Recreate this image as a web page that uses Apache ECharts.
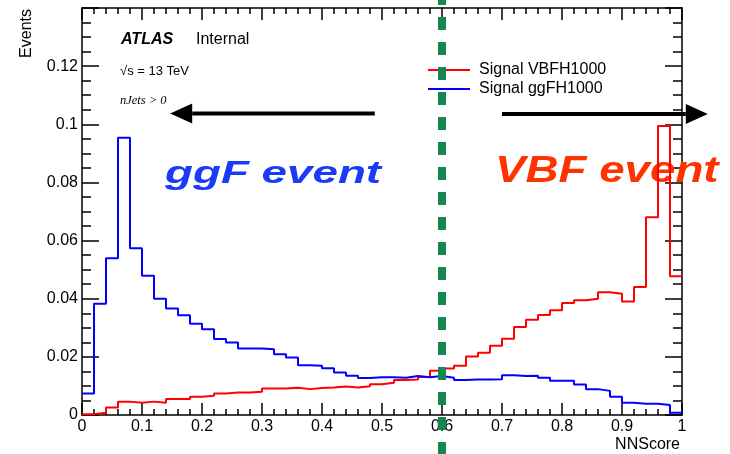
<!DOCTYPE html>
<html>
<head>
<meta charset="utf-8">
<title>NNScore</title>
<script src="https://cdn.jsdelivr.net/npm/echarts@6/dist/echarts.min.js"></script>
<style>
html,body{margin:0;padding:0;background:#fff;}
#chart{width:730px;height:454px;}
</style>
</head>
<body>
<div id="chart"></div>
<script type="text/javascript">
// 50 bins of width 0.02 on NNScore [0,1], normalised
var binWidth = 0.02;
var vbfValues = [
  0.0003, 0.0008, 0.0026, 0.0046, 0.0042, 0.0046, 0.0042, 0.0055, 0.0055, 0.0063,
  0.0066, 0.0074, 0.0077, 0.0077, 0.0080, 0.0091, 0.0091, 0.0094, 0.0089, 0.0093,
  0.0095, 0.0098, 0.0095, 0.0099, 0.0106, 0.0111, 0.0120, 0.0122, 0.0131, 0.0152,
  0.0160, 0.0169, 0.0201, 0.0214, 0.0238, 0.0262, 0.0303, 0.0328, 0.0344, 0.0360,
  0.0385, 0.0395, 0.0400, 0.0422, 0.0417, 0.0390, 0.0440, 0.0680, 0.0994, 0.0477
];
var ggfValues = [
  0.0074, 0.0383, 0.0539, 0.0954, 0.0574, 0.0479, 0.0400, 0.0366, 0.0343, 0.0314,
  0.0295, 0.0261, 0.0249, 0.0229, 0.0229, 0.0226, 0.0209, 0.0198, 0.0171, 0.0169,
  0.0161, 0.0146, 0.0135, 0.0127, 0.0130, 0.0130, 0.0128, 0.0134, 0.0130, 0.0134,
  0.0128, 0.0120, 0.0122, 0.0122, 0.0123, 0.0137, 0.0134, 0.0135, 0.0128, 0.0118,
  0.0118, 0.0105, 0.0089, 0.0083, 0.0063, 0.0042, 0.0039, 0.0039, 0.0034, 0.0008
];
var seriesNames = ['Signal VBFH1000', 'Signal ggFH1000'];
var cutValue = 0.6;
// arrows in data units: [tail, tip]
var leftArrow = [[0.488, 0.1037], [0.147, 0.1037]];
var rightArrow = [[0.700, 0.1035], [1.043, 0.1035]];

var FONT = '"Liberation Sans", Arial, Helvetica, sans-serif';

// left bin edges + closing edge, drawn as steps
function toSteps(vals) {
  var pts = [];
  for (var i = 0; i < vals.length; i++) {
    pts.push([+(i * binWidth).toFixed(2), vals[i]]);
  }
  pts.push([1, vals[vals.length - 1]]);
  return pts;
}

function xAx(pos, showLabel) {
  return {
    type: 'value', min: 0, max: 1, interval: 0.1, position: pos,
    axisLine: {show: true, onZero: false, lineStyle: {color: '#000', width: 1.5}},
    axisTick: {show: true, inside: true, length: 12, lineStyle: {color: '#000', width: 1.5}},
    minorTick: {show: true, splitNumber: 5, length: 6, lineStyle: {color: '#000', width: 1.5}},
    splitLine: {show: false}, minorSplitLine: {show: false},
    axisLabel: {show: showLabel, fontSize: 16, color: '#000', fontFamily: FONT, margin: 4}
  };
}
function yAx(pos, showLabel) {
  return {
    type: 'value', min: 0, max: 0.14, interval: 0.02, position: pos,
    axisLine: {show: true, onZero: false, lineStyle: {color: '#000', width: 1.5}},
    axisTick: {show: true, inside: true, length: 17, lineStyle: {color: '#000', width: 1.5}},
    minorTick: {show: true, splitNumber: 4, length: 9, lineStyle: {color: '#000', width: 1.5}},
    splitLine: {show: false}, minorSplitLine: {show: false},
    axisLabel: {show: showLabel, fontSize: 16, color: '#000', fontFamily: FONT, margin: 4,
      showMaxLabel: false}
  };
}

var chart = echarts.init(document.getElementById('chart'));
var option = {
  animation: false,
  backgroundColor: '#fff',
  grid: {left: 82, right: 48, top: 8, bottom: 39, outerBoundsMode: 'none'},
  xAxis: [xAx('bottom', true), xAx('top', false)],
  yAxis: [yAx('left', true), yAx('right', false)],
  legend: {
    orient: 'vertical', left: 428, top: 62, padding: 0, itemGap: 3,
    itemWidth: 42, itemHeight: 2, icon: 'rect',
    textStyle: {fontSize: 16, lineHeight: 16, color: '#000', fontFamily: FONT, padding: [0, 0, 0, 4]},
    data: seriesNames
  },
  series: [
    {
      name: seriesNames[0], type: 'line', step: 'end', symbol: 'none',
      color: '#ff0000', lineStyle: {color: '#ff0000', width: 2}, z: 3,
      data: toSteps(vbfValues)
    },
    {
      name: seriesNames[1], type: 'line', step: 'end', symbol: 'none',
      color: '#0000ff', lineStyle: {color: '#0000ff', width: 2}, z: 3,
      data: toSteps(ggfValues)
    }
  ]
};
chart.setOption(option);

function arrow(a) {
  var p0 = chart.convertToPixel({gridIndex: 0}, a[0]);
  var p1 = chart.convertToPixel({gridIndex: 0}, a[1]);
  var dir = p1[0] > p0[0] ? 1 : -1;
  var base = p1[0] - dir * 22;
  return [
    {type: 'line', z: 50, shape: {x1: p0[0], y1: p0[1], x2: base, y2: p1[1]},
      style: {stroke: '#000', lineWidth: 4}},
    {type: 'polygon', z: 50, shape: {points: [[p1[0], p1[1]], [base, p1[1] - 10], [base, p1[1] + 10]]},
      style: {fill: '#000'}}
  ];
}

var cx = chart.convertToPixel({xAxisIndex: 0}, cutValue);
var graphics = [
  {type: 'text', z: 1, x: 27, y: 9, rotation: Math.PI / 2,
    style: {text: 'Events', font: '16px ' + FONT, fill: '#000', align: 'right', verticalAlign: 'middle'}},
  {type: 'text', z: 1, x: 680, y: 445,
    style: {text: 'NNScore', font: '16px ' + FONT, fill: '#000', align: 'right', verticalAlign: 'middle'}},
  {type: 'text', z: 1, x: 121, y: 40,
    style: {text: 'ATLAS', font: 'italic bold 16px ' + FONT, fill: '#000', verticalAlign: 'middle'}},
  {type: 'text', z: 1, x: 196, y: 40,
    style: {text: 'Internal', font: '16px ' + FONT, fill: '#000', verticalAlign: 'middle'}},
  {type: 'text', z: 1, x: 120, y: 71,
    style: {text: '√s = 13 TeV', font: '13px ' + FONT, fill: '#000', verticalAlign: 'middle'}},
  {type: 'text', z: 1, x: 120, y: 101,
    style: {text: 'nJets > 0', font: 'italic 12.5px "Liberation Serif", "Times New Roman", serif', fill: '#000', verticalAlign: 'middle'}},
  {type: 'text', z: 1, x: 165, y: 174, scaleX: 1.43,
    style: {text: 'ggF event', font: 'italic bold 32px ' + FONT, fill: '#1a3cf8', verticalAlign: 'middle',
      shadowBlur: 3, shadowColor: 'rgba(26,60,248,0.6)'}},
  {type: 'text', z: 1, x: 495, y: 172, scaleX: 1.27,
    style: {text: 'VBF event', font: 'italic bold 36px ' + FONT, fill: '#ff3300', verticalAlign: 'middle',
      shadowBlur: 3, shadowColor: 'rgba(255,51,0,0.6)'}},
  {type: 'line', z: 100, shape: {x1: cx, y1: 0, x2: cx, y2: 454},
    style: {stroke: '#15884f', lineWidth: 8, lineDash: [13, 12], lineDashOffset: 8}}
];
graphics = graphics.concat(arrow(leftArrow), arrow(rightArrow));
chart.setOption({graphic: graphics});
</script>
</body>
</html>
